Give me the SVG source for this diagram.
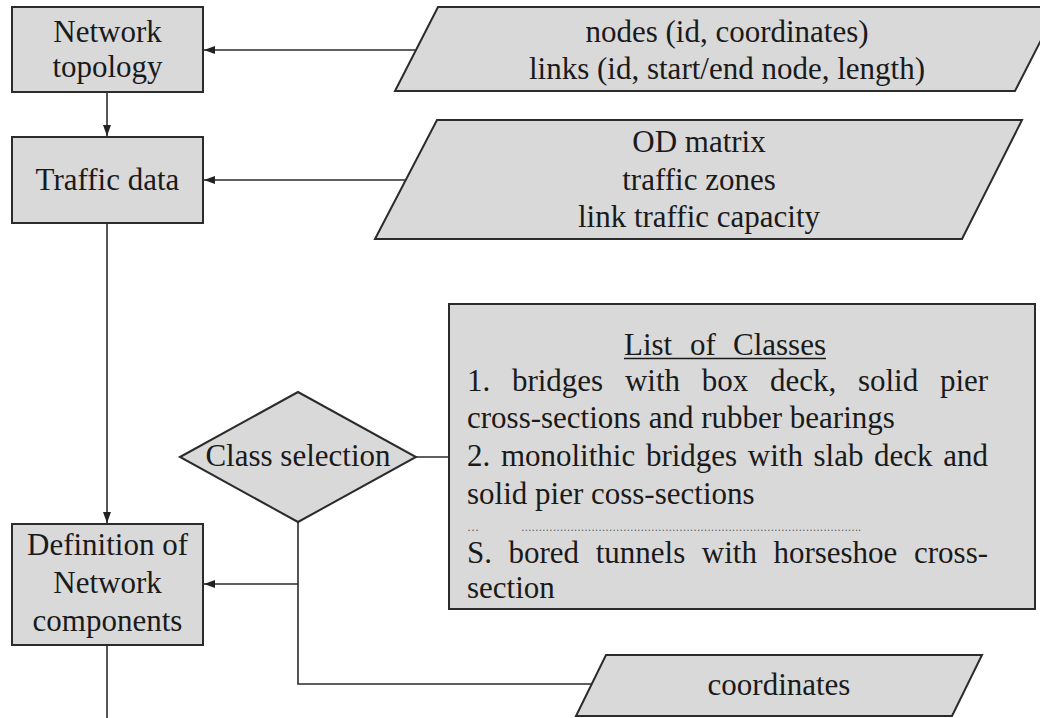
<svg xmlns="http://www.w3.org/2000/svg" width="1040" height="718" viewBox="0 0 1040 718">
<style>
.shape{fill:#d9d9d9;stroke:#2b2b2b;stroke-width:2}
.conn{fill:none;stroke:#2b2b2b;stroke-width:1.6}
text{font-family:"Liberation Serif","Times New Roman",serif;font-size:31px;fill:#1a1a1a}
.c{text-anchor:middle}
.dots{font-size:12px;fill:#555}
</style>
<defs>
<marker id="ah" markerWidth="12" markerHeight="10" refX="11" refY="5" orient="auto" markerUnits="userSpaceOnUse">
<path d="M0,1 L11,5 L0,9 z" fill="#222"/>
</marker>
</defs>
<rect width="1040" height="718" fill="#ffffff"/>
<g id="connectors">
<path class="conn" d="M415,50 H204" marker-end="url(#ah)"/>
<path class="conn" d="M405,180 H204" marker-end="url(#ah)"/>
<path class="conn" d="M107,92 V136" marker-end="url(#ah)"/>
<path class="conn" d="M107,223 V523" marker-end="url(#ah)"/>
<path class="conn" d="M416,457 H449"/>
<path class="conn" d="M298,522 V684 H592"/>
<path class="conn" d="M298,584 H204" marker-end="url(#ah)"/>
<path class="conn" d="M107,645 V718"/>
</g>
<g id="network-topology">
<rect class="shape" x="12" y="7" width="191" height="85"/>
<text class="c" x="107.5" y="42">Network</text>
<text class="c" x="107.5" y="77">topology</text>
</g>
<g id="traffic-data">
<rect class="shape" x="12" y="137" width="191" height="86"/>
<text class="c" x="107.5" y="190">Traffic data</text>
</g>
<g id="definition">
<rect class="shape" x="12" y="524" width="191" height="121"/>
<text class="c" x="107.5" y="555">Definition of</text>
<text class="c" x="107.5" y="593">Network</text>
<text class="c" x="107.5" y="631">components</text>
</g>
<g id="topology-input">
<polygon class="shape" points="438,7 1058,7 1015,91 395,91"/>
<text class="c" x="727" y="42">nodes (id, coordinates)</text>
<text class="c" x="727" y="79">links (id, start/end node, length)</text>
</g>
<g id="traffic-input">
<polygon class="shape" points="437,120 1022,120 962,239 375,239"/>
<text class="c" x="699" y="152">OD matrix</text>
<text class="c" x="699" y="190">traffic zones</text>
<text class="c" x="699" y="227">link traffic capacity</text>
</g>
<g id="class-selection">
<polygon class="shape" points="180,457 298,392 416,457 298,522"/>
<text class="c" x="298" y="466">Class selection</text>
</g>
<g id="list-of-classes">
<rect class="shape" x="449" y="304" width="586" height="305"/>
<text y="355"><tspan x="624">List</tspan><tspan x="690">of</tspan><tspan x="733">Classes</tspan></text>
<line x1="624" y1="358.5" x2="826" y2="358.5" stroke="#1a1a1a" stroke-width="1.5"/>
<text y="391"><tspan x="467">1.</tspan><tspan x="511.9">bridges</tspan><tspan x="624.9">with</tspan><tspan x="701.7">box</tspan><tspan x="769.9">deck,</tspan><tspan x="857.9">solid</tspan><tspan x="939.9">pier</tspan></text>
<text x="467" y="428">cross-sections and rubber bearings</text>
<text y="466"><tspan x="467">2.</tspan><tspan x="500.9">monolithic</tspan><tspan x="645.9">bridges</tspan><tspan x="747.8">with</tspan><tspan x="813.5">slab</tspan><tspan x="874.1">deck</tspan><tspan x="943.3">and</tspan></text>
<text x="467" y="504">solid pier coss-sections</text>
<text class="dots" x="467" y="531">…</text>
<text class="dots" x="521" y="531" textLength="340" lengthAdjust="spacingAndGlyphs">…………………………………………………………………………………….</text>
<text y="563"><tspan x="467">S.</tspan><tspan x="508.5">bored</tspan><tspan x="595.7">tunnels</tspan><tspan x="701.8">with</tspan><tspan x="773.4">horseshoe</tspan><tspan x="914">cross-</tspan></text>
<text x="467" y="598">section</text>
</g>
<g id="coordinates-input">
<polygon class="shape" points="606,655 982,655 952,716 576,716"/>
<text class="c" x="779" y="695">coordinates</text>
</g>
</svg>
